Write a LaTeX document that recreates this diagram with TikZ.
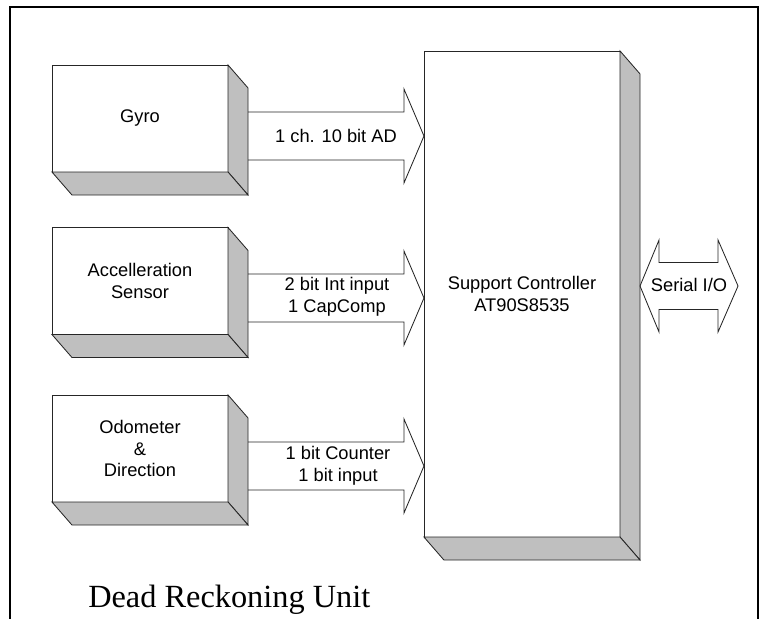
\documentclass[tikz,border=0pt]{standalone}
\usepackage{fontspec}
\setmainfont{Liberation Serif}
\setsansfont{Liberation Sans}
\usetikzlibrary{calc,positioning}

\tikzset{
  unit/.style={draw=black!85, fill=white, line width=0.6pt, rectangle, outer sep=0pt,
    inner sep=0pt, align=center, font=\sffamily\fontsize{13}{15.5}\selectfont},
  side/.style={draw=black!85, fill=black!25, line width=0.6pt, line join=miter},
  bus/.style={draw=black!85, line width=0.6pt, line join=miter},
  lbl/.style={align=center, inner sep=1pt, font=\sffamily\fontsize{13}{15.5}\selectfont}
}

% grey right side and bottom of a box
\newcommand{\boxdepth}[1]{%
  \filldraw[side] (#1.north east) -- ++(20,23) -- ($(#1.south east)+(20,23)$) -- (#1.south east) -- cycle;
  \filldraw[side] (#1.south west) -- (#1.south east) -- ++(20,23) -- ($(#1.south west)+(20,23)$) -- cycle;}

% wide arrow from a box into the controller
\newcommand{\busarrow}[2]{%
  \coordinate (s0) at ($(#1.east)+(20,0)$);
  \coordinate (s) at (s0 |- 0,#2);
  \coordinate (t) at (ctrl.west |- 0,#2);
  \draw[bus] ($(s)+(0,-24)$) -- ($(t)+(-20,-24)$) -- ($(t)+(-20,-47)$) -- (t)
    -- ($(t)+(-20,47)$) -- ($(t)+(-20,24)$) -- ($(s)+(0,24)$);}

\begin{document}
\begin{tikzpicture}[x=0.025cm, y=-0.025cm]
  \useasboundingbox (0,0) rectangle (759,619);
  \draw[line width=1.4pt] (10,619) -- (10,7) -- (758,7) -- (758,619);

  % controller
  \node[unit, minimum width=4.9cm, minimum height=12.15cm] (ctrl) at (522,294)
    {Support Controller\\AT90S8535};
  \boxdepth{ctrl}

  % sensors
  \node[unit, minimum width=4.4cm, minimum height=2.675cm] (gyro) at (140,118.5) {Gyro};
  \boxdepth{gyro}
  \node[unit, minimum width=4.4cm, minimum height=2.675cm] (accel) at (140,281) {Accelleration\\Sensor};
  \boxdepth{accel}
  \node[unit, minimum width=4.4cm, minimum height=2.675cm] (odo) at (140,448.5) {Odometer\\\&\\Direction};
  \boxdepth{odo}

  % buses
  \busarrow{gyro}{136}
  \node[lbl] (adlbl) at (336,136) {1 ch. 10 bit AD};
  \busarrow{accel}{298}
  \node[lbl] (intlbl) at (337,297) {2 bit Int input\\1 CapComp};
  \busarrow{odo}{466}
  \node[lbl] (cntlbl) at (338,466) {1 bit Counter\\1 bit input};

  % serial port
  \coordinate (sl) at ($(ctrl.east |- 0,286)+(20,0)$);
  \draw[bus] (sl) -- ++(19,-46) -- ++(0,22.5) -- ++(59,0) -- ++(0,-22.5) -- ++(20,46)
    -- ++(-20,46) -- ++(0,-22.5) -- ++(-59,0) -- ++(0,22.5) -- cycle;
  \node[lbl] (sio) at (689,285) {Serial I/O};

  \node[anchor=base west, inner sep=0pt, font=\fontsize{23}{27}\selectfont] (title) at (88,607)
    {Dead Reckoning Unit};
\end{tikzpicture}
\end{document}
